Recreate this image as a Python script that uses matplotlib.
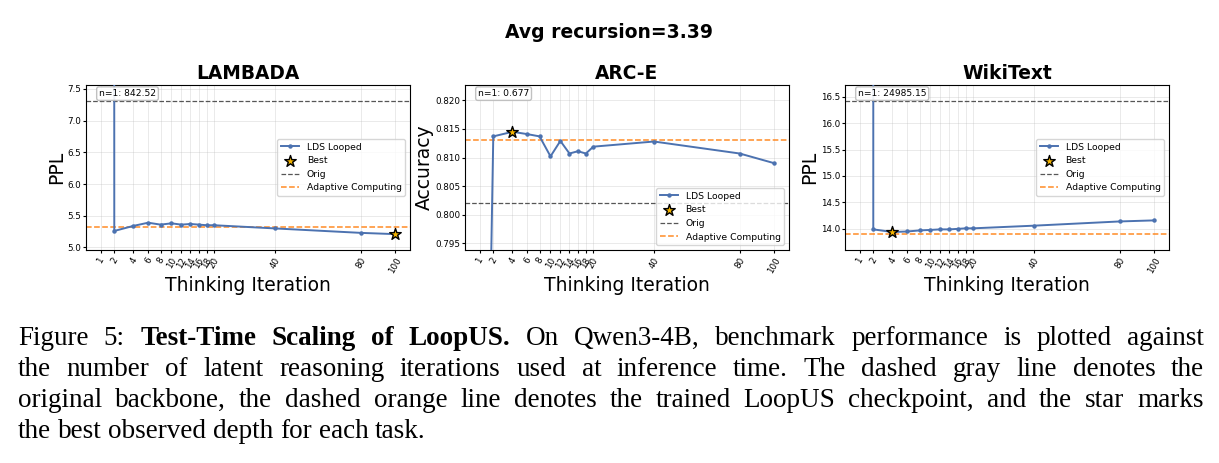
"""Test-time scaling of LoopUS: three benchmarks vs thinking iteration."""
import matplotlib
matplotlib.use("Agg")
import matplotlib.pyplot as plt
import numpy as np

W, H = 1219, 463

iters = [1, 2, 4, 6, 8, 10, 12, 14, 16, 18, 20, 40, 80, 100]
tick_iters = [1, 2, 4, 6, 8, 10, 12, 14, 16, 18, 20, 40, 80, 100]

lambada_ppl = [842.52, 5.26, 5.34, 5.39, 5.36, 5.38, 5.36, 5.37, 5.36, 5.35, 5.35, 5.30, 5.23, 5.21]
arce_acc = [0.677, 0.8137, 0.8145, 0.8141, 0.8137, 0.8102, 0.8129, 0.8107, 0.8111, 0.8107, 0.8119, 0.8128, 0.8107, 0.8090]
wiki_ppl = [24985.15, 13.99, 13.94, 13.95, 13.97, 13.98, 13.99, 13.99, 14.00, 14.01, 14.01, 14.06, 14.14, 14.16]

panels = [
    dict(title="LAMBADA", ylabel="PPL", values=lambada_ppl, orig=7.31, adaptive=5.33,
         best_idx=13, note="n=1: 842.52", ylim=(4.96, 7.56), legend="center right"),
    dict(title="ARC-E", ylabel="Accuracy", values=arce_acc, orig=0.802, adaptive=0.813,
         best_idx=2, note="n=1: 0.677", ylim=(0.7938, 0.8227), legend="lower right"),
    dict(title="WikiText", ylabel="PPL", values=wiki_ppl, orig=16.42, adaptive=13.90,
         best_idx=2, note="n=1: 24985.15", ylim=(13.60, 16.72), legend="center right"),
]

suptitle = "Avg recursion=3.39"

caption_lines = [
    [("Figure 5:", False), ("Test-Time Scaling of LoopUS.", True),
     ("On Qwen3-4B, benchmark performance is plotted against", False)],
    [("the number of latent reasoning iterations used at inference time. "
      "The dashed gray line denotes the", False)],
    [("original backbone, the dashed orange line denotes the trained LoopUS "
      "checkpoint, and the star marks", False)],
    [("the best observed depth for each task.", False)],
]

LINE_COLOR = "#4C72B0"
STAR_COLOR = "#F2B200"

fig = plt.figure(figsize=(W / 100, H / 100), dpi=100)

ax_lefts = [86, 465, 845]
ax_w, ax_top, ax_bot = 324, 85, 250

for left, p in zip(ax_lefts, panels):
    ax = fig.add_axes([left / W, 1 - ax_bot / H, ax_w / W, (ax_bot - ax_top) / H])
    ax.set_xscale("function", functions=(np.sqrt, np.square))
    ax.plot(iters, p["values"], color=LINE_COLOR, lw=1.4, marker="o", ms=2.2,
            label="LDS Looped", zorder=3)
    ax.scatter([iters[p["best_idx"]]], [p["values"][p["best_idx"]]], marker="*",
               s=75, color=STAR_COLOR, edgecolors="black", linewidths=1.0,
               label="Best", zorder=5)
    ax.axhline(p["orig"], color="#444444", ls="--", lw=0.9, alpha=0.9, label="Orig")
    ax.axhline(p["adaptive"], color="#ff7f0e", ls="--", lw=1.1, alpha=0.9,
               label="Adaptive Computing")
    ax.set_ylim(*p["ylim"])
    ax.set_xticks(tick_iters)
    ax.set_xticklabels([str(t) for t in tick_iters])
    ax.xaxis.set_minor_locator(matplotlib.ticker.NullLocator())
    ax.tick_params(axis="x", labelsize=6.3, rotation=60, pad=1.5, length=2.5)
    ax.tick_params(axis="y", labelsize=6.3, pad=1.5, length=2)
    ax.grid(True, alpha=0.3, lw=0.6)
    ax.set_title(p["title"], fontsize=13.4, fontweight="bold", pad=4)
    ax.set_xlabel("Thinking Iteration", fontsize=13.5, labelpad=1)
    ax.set_ylabel(p["ylabel"], fontsize=13.5, labelpad=1)
    ax.text(0.04, 0.975, p["note"], transform=ax.transAxes, fontsize=6.6,
            va="top", ha="left",
            bbox=dict(boxstyle="round,pad=0.25", fc="white", ec="#bbbbbb", alpha=0.9))
    ax.legend(loc=p["legend"], fontsize=6.7, framealpha=0.8)

fig.text(609 / W, 1 - 32 / H, suptitle, fontsize=13.5, fontweight="bold",
         ha="center", va="center")

# caption, justified word by word like the paper
CAP_FS = 19.5
cap_left, cap_right = 18, 1204
baselines = [345, 376, 407, 438]
renderer = fig.canvas.get_renderer()
space_px = CAP_FS * 100 / 72 * 0.25

for i, (line, base) in enumerate(zip(caption_lines, baselines)):
    words = []
    for chunk, bold in line:
        words += [(w, bold) for w in chunk.split(" ")]
    arts = []
    for w, bold in words:
        t = fig.text(0, 1 - base / H, w, fontsize=CAP_FS, family="Liberation Serif",
                     fontweight="bold" if bold else "normal", va="baseline", ha="left")
        arts.append(t)
    widths = [t.get_window_extent(renderer).width for t in arts]
    if i < len(caption_lines) - 1:
        gap = (cap_right - cap_left - sum(widths)) / (len(words) - 1)
    else:
        gap = space_px
    x = cap_left
    for t, w in zip(arts, widths):
        t.set_x(x / W)
        x += w + gap

fig.savefig("out.png", dpi=100)
